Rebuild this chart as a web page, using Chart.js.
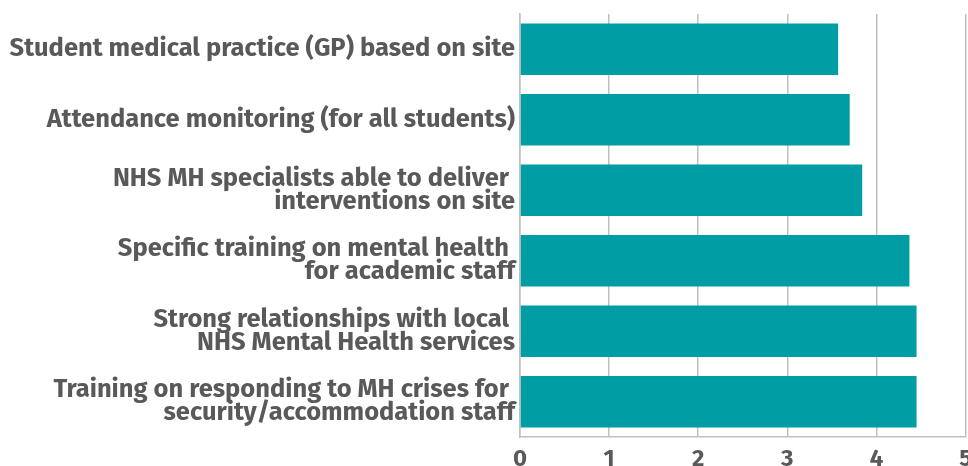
<!DOCTYPE html>
<html>
<head>
<meta charset="utf-8">
<script src="https://cdn.jsdelivr.net/npm/chart.js@4/dist/chart.umd.min.js"></script>
<style>
html,body{margin:0;padding:0;background:#fff;overflow:hidden;}
#wrap{position:relative;width:980px;height:480px;margin-top:-14px;}
</style>
</head>
<body>
<div id="wrap"><canvas id="c"></canvas></div>
<script>
const categories = [
  ["Student medical practice (GP) based on site"],
  ["Attendance monitoring (for all students)"],
  ["NHS MH specialists able to deliver ", "interventions on site"],
  ["Specific training on mental health ", "for academic staff"],
  ["Strong relationships with local ", "NHS Mental Health services"],
  ["Training on responding to MH crises for ", "security/accommodation staff"]
];
const values = [3.57, 3.70, 3.84, 4.37, 4.45, 4.45];
const xTicks = [0, 1, 2, 3, 4, 5];

const textColor = '#595959';
const fontFamily = '"Fira Sans", "Open Sans", sans-serif';

new Chart(document.getElementById('c'), {
  type: 'bar',
  data: {
    labels: categories,
    datasets: [{
      data: values,
      backgroundColor: '#009da4',
      borderWidth: 0,
      categoryPercentage: 0.73,
      barPercentage: 1.0
    }]
  },
  options: {
    indexAxis: 'y',
    responsive: true,
    maintainAspectRatio: false,
    animation: false,
    layout: { padding: { top: 0, left: 0, right: 0, bottom: 0 } },
    plugins: { legend: { display: false }, tooltip: { enabled: false } },
    scales: {
      x: {
        min: 0, max: 5,
        afterBuildTicks: (s) => { s.ticks = xTicks.map(v => ({ value: v })); },
        afterFit: (s) => { s.height = 29; },
        grid: { color: '#c0c0c0', lineWidth: 1.5, drawTicks: false },
        border: { display: true, color: '#c0c0c0', width: 1.5 },
        ticks: {
          padding: 8,
          color: textColor,
          font: { family: fontFamily, size: 24, weight: 'bold' }
        }
      },
      y: {
        afterFit: (s) => { s.width = 520; },
        grid: { display: false, drawTicks: false },
        border: { display: true, color: '#c0c0c0', width: 1.5 },
        ticks: {
          padding: 5,
          color: textColor,
          font: { family: fontFamily, size: 25.5, weight: 'bold', lineHeight: 0.9 }
        }
      }
    }
  }
});
</script>
</body>
</html>
